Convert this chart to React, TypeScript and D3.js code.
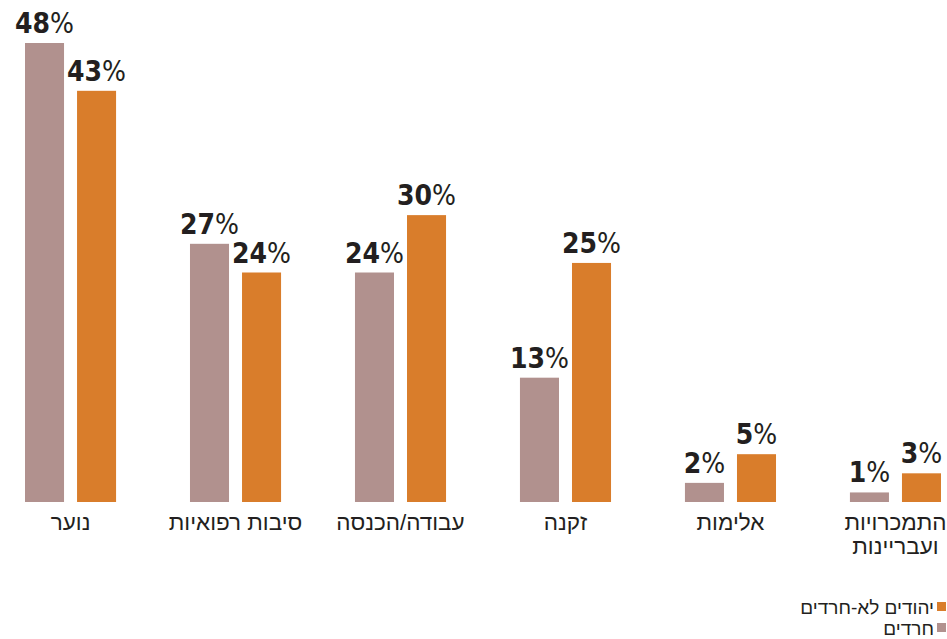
import React, { useEffect, useRef } from "react";
import * as d3 from "d3";

const categories = ["נוער", "סיבות רפואיות", "עבודה/הכנסה", "זקנה", "אלימות", "התמכרויות\nועבריינות"];
const haredim = [48, 27, 24, 13, 2, 1];
const nonHaredim = [43, 24, 30, 25, 5, 3];
const seriesKeys = ["haredim", "nonHaredim"];
const seriesLabels = ["חרדים", "יהודים לא-חרדים"];
const seriesColors = ["#b1918e", "#d97d2b"];

const W = 947;
const H = 639;

const Chart: React.FC = () => {
  const ref = useRef<SVGSVGElement | null>(null);

  useEffect(() => {
    const root = d3.select(ref.current);
    root.selectAll("*").remove();
    const svg = root.attr("width", W).attr("height", H);

    const baseline = 502;
    const x0 = d3
      .scaleBand()
      .domain(categories)
      .range([25, 941])
      .paddingInner(0.448)
      .paddingOuter(0);

    const x1 = d3
      .scaleBand()
      .domain(seriesKeys)
      .range([0, x0.bandwidth()])
      .paddingInner(0.25);

    const y = d3.scaleLinear().domain([0, 48]).range([baseline, 43]);

    const rows = categories.map((c, i) => ({
      cat: c,
      vals: [
        { key: "haredim", v: haredim[i] },
        { key: "nonHaredim", v: nonHaredim[i] },
      ],
    }));

    const color = d3.scaleOrdinal<string, string>().domain(seriesKeys).range(seriesColors);

    const g = svg
      .selectAll(".grp")
      .data(rows)
      .enter()
      .append("g")
      .attr("class", "grp")
      .attr("transform", (d) => `translate(${x0(d.cat)},0)`);

    g.selectAll("rect")
      .data((d) => d.vals)
      .enter()
      .append("rect")
      .attr("x", (d) => x1(d.key) ?? 0)
      .attr("y", (d) => y(d.v))
      .attr("width", x1.bandwidth())
      .attr("height", (d) => baseline - y(d.v))
      .attr("fill", (d) => color(d.key));

    // value labels
    const lbl = g
      .selectAll("text.val")
      .data((d) => d.vals)
      .enter()
      .append("text")
      .attr("class", "val")
      .attr("x", (d) => (x1(d.key) ?? 0) + x1.bandwidth() / 2)
      .attr("y", (d) => y(d.v) - 10)
      .attr("text-anchor", "middle")
      .style("font-family", "'DejaVu Sans Condensed', 'DejaVu Sans', sans-serif")
      .style("font-size", "28px")
      .style("fill", "#231f20");
    lbl.append("tspan").style("font-weight", "bold").text((d) => String(d.v));
    lbl.append("tspan").style("font-weight", "normal").text("%");

    // category labels
    g.append("text")
      .attr("text-anchor", "middle")
      .style("font-family", "'Liberation Sans', 'DejaVu Sans', sans-serif")
      .style("font-size", "22.5px")
      .style("fill", "#231f20")
      .each(function (d) {
        const lines = d.cat.split("\n");
        const t = d3.select(this);
        lines.forEach((ln, i) => {
          t.append("tspan")
            .attr("x", x0.bandwidth() / 2)
            .attr("y", 530 + i * 24)
            .text(ln);
        });
      });

    // legend
    const legend = svg
      .selectAll(".leg")
      .data([1, 0])
      .enter()
      .append("g")
      .attr("class", "leg")
      .attr("transform", (_d, i) => `translate(0,${i * 21})`);
    legend
      .append("rect")
      .attr("x", 937)
      .attr("y", 602)
      .attr("width", 9)
      .attr("height", 9)
      .attr("fill", (d) => seriesColors[d]);
    legend
      .append("text")
      .attr("x", 934)
      .attr("y", 614)
      .attr("text-anchor", "end")
      .style("font-family", "'Liberation Sans', 'DejaVu Sans', sans-serif")
      .style("font-size", "19px")
      .style("fill", "#231f20")
      .text((d) => seriesLabels[d]);
  }, []);

  return <svg ref={ref} style={{ display: "block" }}></svg>;
};

export default function App() {
  return (
    <div style={{ position: "absolute", left: 0, top: 0 }}>
      <Chart />
    </div>
  );
}
